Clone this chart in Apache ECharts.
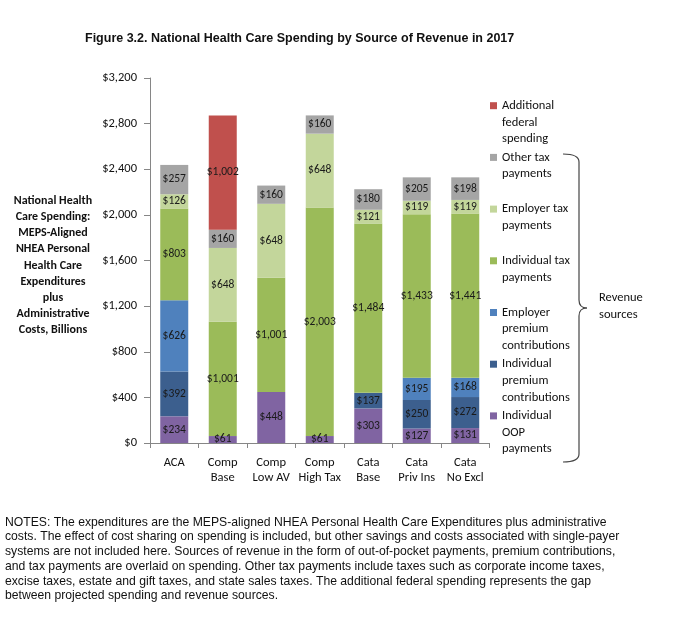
<!DOCTYPE html>
<html><head><meta charset="utf-8">
<script src="https://cdn.jsdelivr.net/npm/echarts@6/dist/echarts.min.js"></script>
<style>html,body{margin:0;padding:0;background:#fff}#c{width:682px;height:617px}</style>
</head><body><div id="c"></div>
<script>
const categories = ['ACA','Comp\nBase','Comp\nLow AV','Comp\nHigh Tax','Cata\nBase','Cata\nPriv Ins','Cata\nNo Excl'];
const oop      = [234, 61, 448, 61, 303, 127, 131];
const indPrem  = [392, 0, 0, 0, 137, 250, 272];
const empPrem  = [626, 0, 0, 0, 0, 195, 168];
const indTax   = [803, 1001, 1001, 2003, 1484, 1433, 1441];
const empTax   = [126, 648, 648, 648, 121, 119, 119];
const otherTax = [257, 160, 160, 160, 180, 205, 198];
const addFed   = [0, 1002, 0, 0, 0, 0, 0];
const yTicks = [0, 400, 800, 1200, 1600, 2000, 2400, 2800, 3200];

const seriesDefs = [
  {name:'Individual OOP payments', label:'Individual\nOOP\npayments', data:oop, color:'#8064A2'},
  {name:'Individual premium contributions', label:'Individual\npremium\ncontributions', data:indPrem, color:'#3C5F8E'},
  {name:'Employer premium contributions', label:'Employer\npremium\ncontributions', data:empPrem, color:'#4F81BD'},
  {name:'Individual tax payments', label:'Individual tax\npayments', data:indTax, color:'#9BBB59'},
  {name:'Employer tax payments', label:'Employer tax\npayments', data:empTax, color:'#C3D69B'},
  {name:'Other tax payments', label:'Other tax\npayments', data:otherTax, color:'#A5A5A5'},
  {name:'Additional federal spending', label:'Additional\nfederal\nspending', data:addFed, color:'#C0504D'}
];
const fmt = v => '$' + Number(v).toLocaleString('en-US');

const legendOrder = seriesDefs.slice().reverse();
const LH = 16.7;
const legendY0 = 105.7, legendStep = 51.7;
const legends = legendOrder.map((s, i) => {
  const n = s.label.split('\n').length;
  const yc = legendY0 + i * legendStep;
  return {
    data: [s.name],
    orient: 'vertical',
    left: 490,
    top: yc - (2 * n - 1) * LH / 2,
    padding: 0,
    itemWidth: 7, itemHeight: 7,
    icon: 'rect',
    selectedMode: false,
    formatter: () => '\n'.repeat(n - 1) + s.label,
    textStyle: {fontFamily: 'Carlito, Lato, sans-serif', fontSize: 12.5, color: '#111', lineHeight: LH}
  };
});

const braceStyle = {stroke: '#444', lineWidth: 1.2, fill: null};
const chart = echarts.init(document.getElementById('c'));
chart.setOption({
  animation: false,
  textStyle: {fontFamily: 'Carlito, Lato, sans-serif'},
  grid: {left: 150, right: 192.5, top: 78, bottom: 174},
  legend: legends,
  xAxis: {
    type: 'category', data: categories,
    axisLine: {lineStyle: {color: '#868686'}},
    axisTick: {show: true, length: 5, alignWithLabel: false, lineStyle: {color: '#868686'}},
    axisLabel: {color: '#111', fontSize: 12.5, lineHeight: 15, margin: 12, interval: 0}
  },
  yAxis: {
    type: 'value', min: 0, max: 3200, interval: 400,
    name: '{s|}\nNational Health\nCare Spending:\nMEPS-Aligned\nNHEA Personal\nHealth Care\nExpenditures\nplus\nAdministrative\nCosts, Billions',
    nameLocation: 'middle', nameRotate: 0, nameGap: 97,
    nameTextStyle: {fontFamily: 'Carlito, Lato, sans-serif', fontWeight: 'bold', fontSize: 12, lineHeight: 16.1, color: '#111', align: 'center',
      rich: {s: {lineHeight: 10, height: 10, fontSize: 1}}},
    axisLine: {show: true, lineStyle: {color: '#868686'}},
    axisTick: {show: true, length: 6, lineStyle: {color: '#868686'}},
    splitLine: {show: false},
    axisLabel: {color: '#111', fontSize: 12.5, margin: 13, formatter: v => yTicks.includes(v) ? fmt(v) : ''}
  },
  series: seriesDefs.map(s => ({
    name: s.name, type: 'bar', stack: 'total', barWidth: 28,
    data: s.data,
    itemStyle: {color: s.color},
    label: {show: true, position: 'inside', color: '#1a1a1a', fontSize: 11.5,
      formatter: p => p.value ? fmt(p.value) : ''}
  })),
  graphic: [
    {type: 'text', left: 85, top: 32, style: {text: 'Figure 3.2. National Health Care Spending by Source of Revenue in 2017', font: 'bold 12.5px "Liberation Sans", Arial, sans-serif', fill: '#111'}},
    {type: 'bezierCurve', shape: {x1: 563, y1: 154, cpx1: 579, cpy1: 154, x2: 579, y2: 162}, style: braceStyle},
    {type: 'line', shape: {x1: 579, y1: 162, x2: 579, y2: 300}, style: braceStyle},
    {type: 'bezierCurve', shape: {x1: 579, y1: 300, cpx1: 579, cpy1: 308, x2: 587, y2: 308}, style: braceStyle},
    {type: 'bezierCurve', shape: {x1: 587, y1: 308, cpx1: 579, cpy1: 308, x2: 579, y2: 316}, style: braceStyle},
    {type: 'line', shape: {x1: 579, y1: 316, x2: 579, y2: 454}, style: braceStyle},
    {type: 'bezierCurve', shape: {x1: 579, y1: 454, cpx1: 579, cpy1: 462, x2: 563, y2: 462}, style: braceStyle},
    {type: 'text', left: 599, top: 290, style: {text: 'Revenue\nsources', font: '12.5px Carlito, Lato, sans-serif', lineHeight: 16.7, fill: '#111'}},
    {type: 'text', left: 5, top: 515, style: {text: 'NOTES: The expenditures are the MEPS-aligned NHEA Personal Health Care Expenditures plus administrative\ncosts. The effect of cost sharing on spending is included, but other savings and costs associated with single-payer\nsystems are not included here. Sources of revenue in the form of out-of-pocket payments, premium contributions,\nand tax payments are overlaid on spending. Other tax payments include taxes such as corporate income taxes,\nexcise taxes, estate and gift taxes, and state sales taxes. The additional federal spending represents the gap\nbetween projected spending and revenue sources.', font: '12.2px "Liberation Sans", Arial, sans-serif', lineHeight: 14.7, fill: '#111'}}
  ]
});
</script></body></html>
